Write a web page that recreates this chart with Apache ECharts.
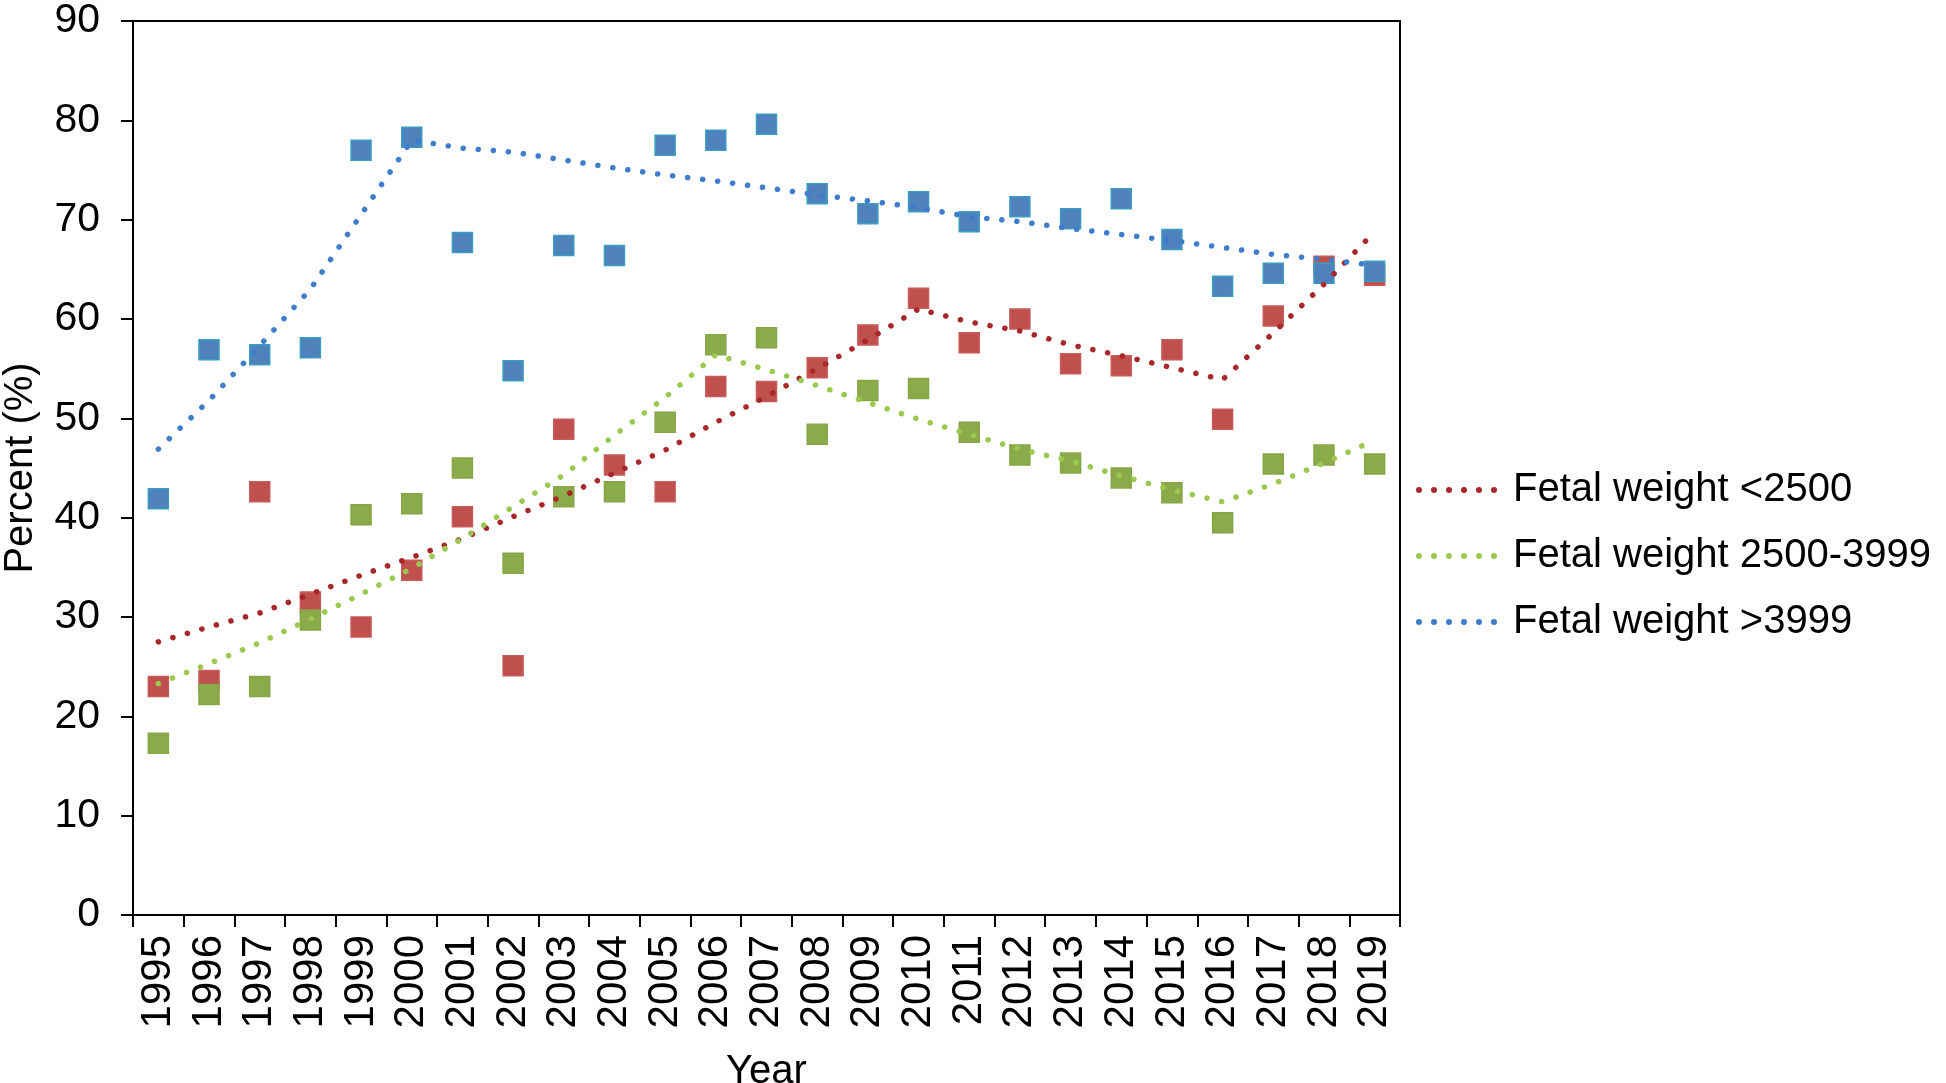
<!DOCTYPE html>
<html>
<head>
<meta charset="utf-8">
<script src="https://cdn.jsdelivr.net/npm/echarts@6/dist/echarts.min.js"></script>
<style>
html,body{margin:0;padding:0;background:#fff;}
#chart{width:1946px;height:1083px;}
</style>
</head>
<body>
<div id="chart"></div>
<script>
// Categories
var years = ['1995','1996','1997','1998','1999','2000','2001','2002','2003','2004','2005','2006','2007','2008','2009','2010','2011','2012','2013','2014','2015','2016','2017','2018','2019'];

// Observed percentages (square markers)
var lowWeight  = [23.0,23.6,42.6,31.5,29.0,34.7,40.1,25.1,48.9,45.3,42.6,53.2,52.7,55.1,58.4,62.1,57.6,60.0,55.5,55.3,56.9,49.9,60.3,65.3,64.4];
var midWeight  = [17.3,22.2,23.0,29.7,40.3,41.4,45.0,35.4,42.1,42.6,49.6,57.4,58.1,48.4,52.8,53.0,48.6,46.3,45.5,44.0,42.5,39.5,45.4,46.3,45.4];
var highWeight = [41.9,56.9,56.4,57.1,77.0,78.3,67.7,54.8,67.4,66.4,77.5,78.0,79.6,72.6,70.6,71.8,69.8,71.3,70.1,72.1,68.0,63.3,64.6,64.6,64.8];

// Fitted trend lines (dotted)
var lowTrend  = [27.5,29.0,30.4,32.3,34.2,36.0,37.9,40.1,42.2,44.5,46.8,49.6,52.2,55.0,57.9,61.0,59.7,58.8,57.4,56.3,55.1,53.9,58.6,63.5,68.8];
var midTrend  = [23.3,25.3,27.4,29.8,32.3,34.9,37.9,41.1,44.3,48.3,52.1,56.4,54.9,53.3,51.6,49.9,48.4,46.9,45.7,44.2,42.8,41.6,43.4,45.5,47.8];
var highTrend = [46.9,51.8,57.3,63.0,70.5,78.0,77.2,76.8,76.0,75.2,74.5,73.9,73.2,72.5,71.9,71.2,70.3,69.8,69.1,68.5,67.9,67.2,66.5,66.0,65.4];

var yTicks = [0,10,20,30,40,50,60,70,80,90];

var seriesNames = ['Fetal weight <2500','Fetal weight 2500-3999','Fetal weight >3999'];

var FONT = '"Liberation Sans", Arial, sans-serif';
var dotIcon = 'path://M0,3a3,3 0 1,0 6,0a3,3 0 1,0 -6,0M15,3a3,3 0 1,0 6,0a3,3 0 1,0 -6,0M30,3a3,3 0 1,0 6,0a3,3 0 1,0 -6,0M45,3a3,3 0 1,0 6,0a3,3 0 1,0 -6,0M60,3a3,3 0 1,0 6,0a3,3 0 1,0 -6,0M75,3a3,3 0 1,0 6,0a3,3 0 1,0 -6,0';

function scatter(data, fill, border) {
  return {
    type: 'scatter', data: data, symbol: 'rect', symbolSize: 20,
    itemStyle: {color: fill, borderColor: border, borderWidth: 1.5, opacity: 1},
    silent: true, z: 2
  };
}
function trend(name, data, color) {
  return {
    name: name, type: 'line', data: data, showSymbol: false, symbol: 'none',
    lineStyle: {color: color, width: 5.5, type: [0.1, 15], cap: 'round'},
    itemStyle: {color: color},
    silent: true, z: 3
  };
}

var chart = echarts.init(document.getElementById('chart'), null, {renderer: 'canvas'});
chart.setOption({
  animation: false,
  backgroundColor: '#fff',
  textStyle: {fontFamily: FONT},
  grid: {left: 133, right: 546, top: 21, bottom: 168, containLabel: false, outerBoundsMode: 'none',
         show: true, borderColor: '#000', borderWidth: 2, backgroundColor: 'transparent'},
  legend: {
    data: seriesNames.map(function(n){ return {name: n, icon: dotIcon}; }),
    orient: 'vertical', left: 1411, top: 462,
    itemWidth: 81, itemHeight: 6, itemGap: 20,
    textStyle: {fontFamily: FONT, fontSize: 40, color: '#000', lineHeight: 46, padding: [0,0,0,11]},
    selectedMode: false
  },
  xAxis: {
    type: 'category', data: years, boundaryGap: true,
    name: 'Year', nameLocation: 'middle', nameGap: 137,
    nameTextStyle: {fontFamily: FONT, fontSize: 40, color: '#000'},
    axisLine: {lineStyle: {color: '#000', width: 2}},
    axisTick: {show: true, length: 12, lineStyle: {color: '#000', width: 2}, alignWithLabel: false},
    axisLabel: {rotate: 90, margin: 20, fontFamily: FONT, fontSize: 42, color: '#000', interval: 0},
    splitLine: {show: false}
  },
  yAxis: {
    type: 'value', min: yTicks[0], max: yTicks[yTicks.length-1], interval: 10,
    name: 'Percent (%)', nameLocation: 'middle', nameGap: 92, nameRotate: 90,
    nameTextStyle: {fontFamily: FONT, fontSize: 40, color: '#000'},
    axisLine: {show: true, lineStyle: {color: '#000', width: 2}},
    axisTick: {show: true, length: 12, lineStyle: {color: '#000', width: 2}},
    axisLabel: {margin: 33, fontFamily: FONT, fontSize: 41, color: '#000'},
    splitLine: {show: false}
  },
  series: [
    scatter(lowWeight, '#C0504D', '#C85A57'),
    scatter(midWeight, '#8BAA4A', '#86A646'),
    scatter(highWeight, '#4F81BD', '#3A9EC0'),
    trend(seriesNames[0], lowTrend, '#A8282A'),
    trend(seriesNames[1], midTrend, '#9BC94F'),
    trend(seriesNames[2], highTrend, '#3D7DCC')
  ]
});
</script>
</body>
</html>
